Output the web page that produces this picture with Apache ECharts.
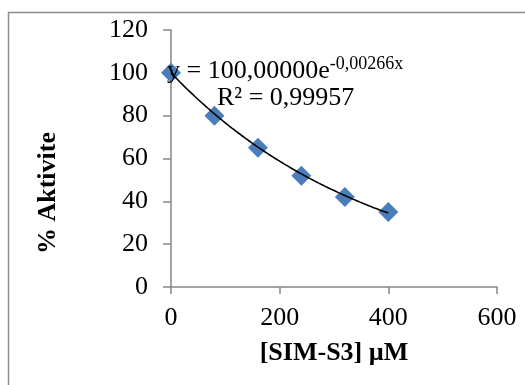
<!DOCTYPE html>
<html><head><meta charset="utf-8">
<script src="https://cdn.jsdelivr.net/npm/echarts@6/dist/echarts.min.js"></script>
<style>html,body{margin:0;padding:0;background:#fff}#c{width:525px;height:385px}</style>
</head><body><div id="c"></div>
<script>
var concentrations = [0, 80, 160, 240, 320, 400];
var activity = [100, 80, 65, 52, 42, 35];
var xTicks = [0, 200, 400, 600];
var yTicks = [0, 20, 40, 60, 80, 100, 120];
var trendA = 100.0;
var trendB = -0.00266;
var trendText = 'y = 100,00000e';
var trendExp = '-0,00266x';
var r2Text = 'R² = 0,99957';
var xTitle = '[SIM-S3] µM';
var yTitle = '% Aktivite';

var trend = [];
for (var x = 0; x <= 400; x += 4) trend.push([x, trendA * Math.exp(trendB * x)]);

var FONT = '"Liberation Serif", "Times New Roman", serif';
var chart = echarts.init(document.getElementById('c'), null, {renderer: 'canvas'});
chart.setOption({
  animation: false,
  grid: {left: 171, right: 28, top: 30, bottom: 98},
  graphic: [
    {type: 'rect', shape: {x: 8.5, y: 12.5, width: 540, height: 400}, style: {fill: 'none', stroke: '#8c8c8c', lineWidth: 1.5}, z: -1},
    {type: 'text', left: 167, top: 55, z: 10, style: {rich: {a: {fontFamily: FONT, fontSize: 26, fill: '#000'}, b: {fontFamily: FONT, fontSize: 18, fill: '#000', verticalAlign: 'top', padding: [0, 0, 14, 0]}}, text: '{a|' + trendText + '}{b|' + trendExp + '}'}},
    {type: 'text', left: 217, top: 85, z: 10, style: {text: r2Text, fontFamily: FONT, fontSize: 26, fill: '#000'}},
    {type: 'text', x: 48, y: 193, rotation: Math.PI / 2, z: 10,
     style: {text: yTitle, fontFamily: FONT, fontSize: 26, fontWeight: 'bold', fill: '#000', align: 'center', verticalAlign: 'middle'}}
  ],
  xAxis: {
    type: 'value', min: 0, max: 600, interval: 200,
    name: xTitle, nameLocation: 'middle', nameGap: 53,
    nameTextStyle: {fontFamily: FONT, fontSize: 26, fontWeight: 'bold', color: '#000'},
    axisLine: {lineStyle: {color: '#868686', width: 1.5}},
    axisTick: {length: 7, lineStyle: {color: '#868686', width: 1.5}},
    axisLabel: {margin: 18, fontFamily: FONT, fontSize: 26, color: '#000', formatter: function(v){return xTicks.indexOf(v) >= 0 ? String(v) : '';}},
    splitLine: {show: false}
  },
  yAxis: {
    type: 'value', min: 0, max: 120, interval: 20,
    axisLine: {show: true, lineStyle: {color: '#868686', width: 1.5}},
    axisTick: {show: true, length: 8, lineStyle: {color: '#868686', width: 1.5}},
    axisLabel: {margin: 23, fontFamily: FONT, fontSize: 26, color: '#000', formatter: function(v){return yTicks.indexOf(v) >= 0 ? String(v) : '';}},
    splitLine: {show: false}
  },
  series: [
    {type: 'scatter', data: concentrations.map(function(c, i){return [c, activity[i]];}),
     symbol: 'diamond', symbolSize: [20, 20], itemStyle: {color: '#4a7ebb', opacity: 1}, z: 2},
    {type: 'line', data: trend, showSymbol: false, symbol: 'none', smooth: false,
     lineStyle: {color: '#000', width: 1.6}, z: 3}
  ]
});
</script></body></html>
